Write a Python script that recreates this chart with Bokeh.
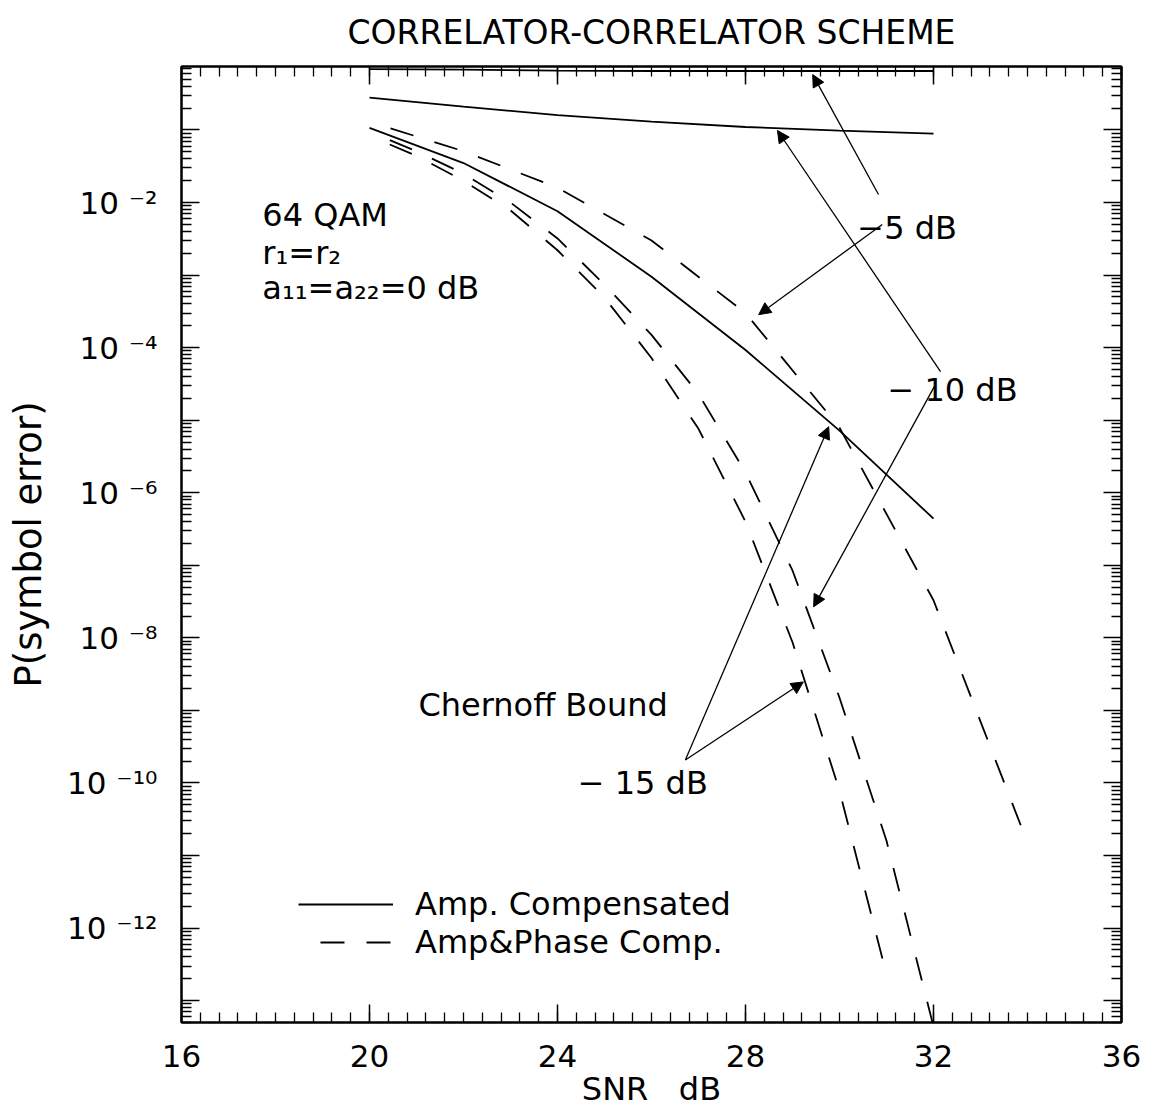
from bokeh.plotting import figure
from bokeh.models import (Range1d, LinearAxis, LogAxis, FixedTicker, SingleIntervalTicker,
                          Label, Arrow, NormalHead, Legend, LegendItem, CustomJSTickFormatter)
from bokeh.embed import file_html
from bokeh.resources import INLINE

# ---------------- data ----------------
snr_amp = [20, 22, 24, 26, 28, 30, 32]
amp_comp_5dB = [6.9e-1, 6.8e-1, 6.6e-1, 6.5e-1, 6.5e-1, 6.5e-1, 6.5e-1]
amp_comp_10dB = [2.8e-1, 2.1e-1, 1.6e-1, 1.3e-1, 1.1e-1, 9.8e-2, 8.9e-2]
amp_comp_15dB = [1.07e-1, 3.5e-2, 7.6e-3, 9.5e-4, 9.3e-5, 7.2e-6, 4.4e-7]

snr_phase_5dB = [20, 22, 24, 26, 28, 30, 32, 34]
phase_comp_5dB = [1.3e-1, 5.1e-2, 1.6e-2, 3.0e-3, 3.0e-4, 7.9e-6, 3.3e-8, 1.5e-11]

snr_phase_10dB = [20, 21, 22, 23, 24, 25, 26, 27, 28, 29, 30, 31, 32]
phase_comp_10dB = [9.5e-2, 5.1e-2, 2.5e-2, 1.0e-2, 3.2e-3, 7.4e-4, 1.5e-4, 2.3e-5,
                   1.9e-6, 8.5e-8, 1.5e-9, 1.6e-11, 4.4e-14]

snr_phase_15dB = [20, 21, 22, 23, 24, 25, 26, 27, 28, 29, 30, 31]
phase_comp_15dB = [8.3e-2, 4.4e-2, 2.0e-2, 7.8e-3, 2.2e-3, 4.9e-4, 7.2e-5, 7.6e-6,
                   4.0e-7, 8.7e-9, 7.8e-11, 2.3e-13]

x_ticks = [16, 20, 24, 28, 32, 36]
y_decades = list(range(-14, 1))
y_tick_labels = {-2: "10 \u207b\u00b2", -4: "10 \u207b\u2074", -6: "10 \u207b\u2076",
                 -8: "10 \u207b\u2078", -10: "10 \u207b\u00b9\u2070", -12: "10 \u207b\u00b9\u00b2"}

title_text = "CORRELATOR-CORRELATOR SCHEME"
x_label = "SNR \u00a0 dB"
y_label = "P(symbol error)"
legend_labels = ["Amp. Compensated", "Amp&Phase Comp."]

# annotation texts: (text, x, y) in data units
annot_texts = [
    ("64 QAM", 17.72, 6.8e-3),
    ("r\u2081=r\u2082", 17.72, 2.0e-3),
    ("a\u2081\u2081=a\u2082\u2082=0 dB", 17.72, 6.7e-4),
    ("\u22125 dB", 30.38, 4.5e-3),
    ("\u2212 10 dB", 31.02, 2.6e-5),
    ("Chernoff Bound", 21.04, 1.19e-9),
    ("\u2212 15 dB", 24.43, 1.0e-10),
]
# arrows: (x_start, y_start, x_end, y_end) in data units
annot_arrows = [
    (30.83, 1.29e-2, 29.43, 5.8e-1),
    (30.91, 4.98e-3, 28.28, 2.85e-4),
    (32.15, 4.67e-5, 28.68, 9.84e-2),
    (32.04, 3.09e-5, 29.45, 2.68e-8),
    (26.72, 2.07e-10, 29.77, 8.13e-6),
    (26.72, 2.07e-10, 29.23, 2.47e-9),
]

FONT = "DejaVu Sans"
TICK_FS = "31px"
ANN_FS = "32px"
DASH = "24 22"

p = figure(width=1149, height=1118, output_backend="svg", toolbar_location=None,
           y_axis_type="log",
           x_range=Range1d(16, 36), y_range=Range1d(5.0e-14, 7.5e-1),
           min_border_left=181, min_border_right=28, min_border_top=66, min_border_bottom=96)
p.background_fill_color = "white"
p.border_fill_color = "white"
p.outline_line_color = "black"
p.outline_line_width = 2
p.xgrid.visible = False
p.ygrid.visible = False

p.title.text = title_text
p.title.text_font = FONT
p.title.text_font_size = "33px"
p.title.text_font_style = "normal"
p.title.text_color = "black"
p.title.align = "center"
p.title.vertical_align = "top"
p.title.standoff = 25

# ticks
x_ticker = SingleIntervalTicker(interval=4, num_minor_ticks=10)
y_ticker = FixedTicker(ticks=[10.0 ** k for k in y_decades],
                       minor_ticks=[m * 10.0 ** k for k in y_decades for m in range(2, 10)])
y_overrides = {10.0 ** k: y_tick_labels.get(k, "") for k in y_decades}
blank = CustomJSTickFormatter(code="return ''")


def style_axis(ax):
    ax.major_tick_in = 18
    ax.major_tick_out = 0
    ax.minor_tick_in = 10
    ax.minor_tick_out = 0
    ax.axis_line_width = 2
    ax.major_tick_line_width = 1.5
    ax.minor_tick_line_width = 1.3
    ax.axis_line_color = "black"
    ax.major_tick_line_color = "black"
    ax.minor_tick_line_color = "black"
    ax.major_label_text_font = FONT
    ax.major_label_text_color = "black"
    ax.axis_label_text_font = FONT
    ax.axis_label_text_font_style = "normal"
    ax.axis_label_text_color = "black"


xa = p.xaxis[0]
xa.ticker = x_ticker
style_axis(xa)
xa.major_label_text_font_size = TICK_FS
xa.major_label_standoff = 22
xa.axis_label = x_label
xa.axis_label_text_font_size = "32px"
xa.axis_label_standoff = 0

ya = p.yaxis[0]
ya.ticker = y_ticker
style_axis(ya)
ya.major_label_overrides = y_overrides
ya.major_label_text_font_size = TICK_FS
ya.major_label_standoff = 24
ya.axis_label = y_label
ya.axis_label_text_font_size = "37px"
ya.axis_label_standoff = 14

top_ax = LinearAxis(ticker=x_ticker, formatter=blank)
style_axis(top_ax)
top_ax.major_label_text_font_size = "1px"
top_ax.major_label_standoff = 0
p.add_layout(top_ax, "above")

right_ax = LogAxis(ticker=y_ticker, formatter=blank)
style_axis(right_ax)
right_ax.major_label_text_font_size = "1px"
right_ax.major_label_standoff = 0
p.add_layout(right_ax, "right")

# curves
LW = 1.8
p.line(snr_amp, amp_comp_5dB, line_color="black", line_width=LW)
p.line(snr_amp, amp_comp_10dB, line_color="black", line_width=LW)
r_amp = p.line(snr_amp, amp_comp_15dB, line_color="black", line_width=LW)
r_phase = p.line(snr_phase_5dB, phase_comp_5dB, line_color="black", line_width=LW,
                 line_dash=DASH, line_dash_offset=24)
p.line(snr_phase_10dB, phase_comp_10dB, line_color="black", line_width=LW,
       line_dash=DASH, line_dash_offset=24)
p.line(snr_phase_15dB, phase_comp_15dB, line_color="black", line_width=LW,
       line_dash=DASH, line_dash_offset=24)

# annotations
for txt, tx, ty in annot_texts:
    p.add_layout(Label(x=tx, y=ty, text=txt, text_font=FONT, text_font_size=ANN_FS,
                       text_color="black", text_baseline="alphabetic", text_align="left"))
for xs, ys, xe, ye in annot_arrows:
    p.add_layout(Arrow(end=NormalHead(size=12, fill_color="black", line_color="black", line_width=1),
                       x_start=xs, y_start=ys, x_end=xe, y_end=ye,
                       line_color="black", line_width=1.3))

legend = Legend(items=[LegendItem(label=legend_labels[0], renderers=[r_amp]),
                       LegendItem(label=legend_labels[1], renderers=[r_phase])],
                location=(117, 61), orientation="vertical",
                glyph_width=95, glyph_height=20, label_height=20, label_standoff=22,
                spacing=0, padding=0, margin=0,
                label_text_font=FONT, label_text_font_size=ANN_FS, label_text_color="black",
                border_line_alpha=0, background_fill_alpha=0)
p.add_layout(legend)

open("out.html", "w").write(file_html(p, INLINE))
